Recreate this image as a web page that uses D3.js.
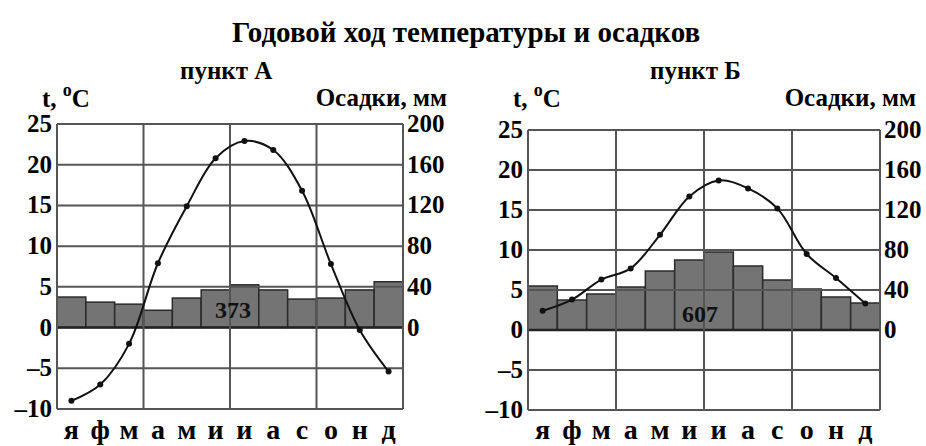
<!DOCTYPE html>
<html>
<head>
<meta charset="utf-8">
<script src="https://cdn.jsdelivr.net/npm/d3@7"></script>
<style>
  body { margin: 0; background: #fff; }
  svg { display: block; font-family: "Liberation Serif", "DejaVu Serif", serif; }
</style>
</head>
<body>
<svg width="926" height="446"></svg>
<script>
// Datos
var months = ['я', 'ф', 'м', 'а', 'м', 'и', 'и', 'а', 'с', 'о', 'н', 'д'];
var tempTicks = [-10, -5, 0, 5, 10, 15, 20, 25];
var precTicks = [0, 40, 80, 120, 160, 200];

var tempA = [-9.0, -7.0, -2.0, 7.9, 14.9, 20.8, 22.9, 21.8, 16.8, 7.8, -0.3, -5.4];
var precA = [30, 25, 23, 17, 29, 37, 42, 37, 28, 29, 37, 45];
var totalA = '373';

var tempB = [2.4, 3.8, 6.3, 7.7, 11.9, 16.7, 18.7, 17.7, 15.2, 9.5, 6.5, 3.3];
var precB = [44, 30, 36, 43, 59, 70, 78, 64, 50, 41, 33, 27];
var totalB = '607';

var svg = d3.select('svg');

// Titulo
svg.append('text')
  .attr('x', 466).attr('y', 42)
  .attr('text-anchor', 'middle')
  .style('font-size', '29px').style('font-weight', 'bold')
  .text('Годовой ход температуры и осадков');

/**
 * Dibuja un climograma
 */
function drawChart(cfg) {
  var x = d3.scaleBand().domain(d3.range(12)).range([cfg.left, cfg.right]).padding(0);
  var yT = d3.scaleLinear().domain([-10, 25]).range([cfg.bottom, cfg.top]);
  var yP = d3.scaleLinear().domain([-80, 200]).range([cfg.bottom, cfg.top]);

  var g = svg.append('g');

  // Etiquetas
  svg.append('text').attr('x', cfg.nameX).attr('y', 79)
    .style('font-size', '25px').style('font-weight', 'bold').text(cfg.name);
  var t = svg.append('text').attr('x', cfg.tX).attr('y', 107)
    .style('font-size', '25px').style('font-weight', 'bold');
  t.append('tspan').text('t, ');
  t.append('tspan').attr('dy', -11).style('font-size', '18px').text('o');
  t.append('tspan').attr('dy', 11).text('C');
  svg.append('text').attr('x', cfg.precX).attr('y', 106)
    .attr('text-anchor', 'end')
    .style('font-size', '25px').style('font-weight', 'bold').text('Осадки, мм');

  // Barras de precipitacion
  g.selectAll('rect.bar')
    .data(cfg.prec)
    .enter()
    .append('rect')
    .attr('class', 'bar')
    .attr('x', function (d, i) { return x(i); })
    .attr('width', x.bandwidth())
    .attr('y', function (d) { return yP(d); })
    .attr('height', function (d) { return yP(0) - yP(d); })
    .attr('fill', '#747474')
    .attr('stroke', '#2a2a2a')
    .attr('stroke-width', 1.5);

  // Grilla horizontal
  g.selectAll('line.h')
    .data(tempTicks)
    .enter()
    .append('line')
    .attr('x1', cfg.left).attr('x2', cfg.right)
    .attr('y1', function (d) { return yT(d); })
    .attr('y2', function (d) { return yT(d); })
    .attr('stroke', function (d) { return d === 0 ? '#222' : '#555'; })
    .attr('stroke-width', function (d) { return d === 0 ? 2.5 : 2; });

  // Grilla vertical (trimestres)
  g.selectAll('line.v')
    .data([0, 3, 6, 9, 12])
    .enter()
    .append('line')
    .attr('x1', function (d) { return d === 12 ? cfg.right : x(d); })
    .attr('x2', function (d) { return d === 12 ? cfg.right : x(d); })
    .attr('y1', cfg.top).attr('y2', cfg.bottom)
    .attr('stroke', '#555')
    .attr('stroke-width', 2);

  // Total
  var cx = (x(5) + x(6) + x.bandwidth()) / 2 + cfg.totalDx;
  g.append('text')
    .attr('x', cx).attr('y', cfg.totalY)
    .attr('text-anchor', 'middle')
    .style('font-size', '24px').style('font-weight', 'bold')
    .attr('fill', '#111')
    .text(cfg.total);

  // Ejes
  g.selectAll('text.lt')
    .data(tempTicks)
    .enter()
    .append('text')
    .attr('x', cfg.left - 5)
    .attr('y', function (d) { return yT(d) + 8; })
    .attr('text-anchor', 'end')
    .style('font-size', '25px').style('font-weight', 'bold')
    .text(function (d) { return d < 0 ? '–' + Math.abs(d) : d; });

  g.selectAll('text.rt')
    .data(precTicks)
    .enter()
    .append('text')
    .attr('x', cfg.right + 4)
    .attr('y', function (d) { return yP(d) + 8; })
    .style('font-size', '25px').style('font-weight', 'bold')
    .text(function (d) { return d; });

  g.selectAll('text.m')
    .data(months)
    .enter()
    .append('text')
    .attr('x', function (d, i) { return x(i) + x.bandwidth() / 2; })
    .attr('y', 439)
    .attr('text-anchor', 'middle')
    .style('font-size', '28px').style('font-weight', 'bold')
    .text(function (d) { return d; });

  // Temperatura
  var line = d3.line()
    .x(function (d, i) { return x(i) + x.bandwidth() / 2; })
    .y(function (d) { return yT(d); })
    .curve(d3.curveCatmullRom);

  g.append('path')
    .datum(cfg.temp)
    .attr('d', line)
    .attr('fill', 'none')
    .attr('stroke', '#111')
    .attr('stroke-width', 2);

  g.selectAll('circle')
    .data(cfg.temp)
    .enter()
    .append('circle')
    .attr('cx', function (d, i) { return x(i) + x.bandwidth() / 2; })
    .attr('cy', function (d) { return yT(d); })
    .attr('r', 3)
    .attr('fill', '#111');
}

drawChart({
  left: 57, right: 403, top: 124, bottom: 409,
  temp: tempA, prec: precA, total: totalA, totalY: 318, totalDx: 3,
  name: 'пункт А', nameX: 180, tX: 42, precX: 447
});

drawChart({
  left: 528, right: 880, top: 130, bottom: 410,
  temp: tempB, prec: precB, total: totalB, totalY: 322, totalDx: -4,
  name: 'пункт Б', nameX: 650, tX: 513, precX: 916
});
</script>
</body>
</html>
